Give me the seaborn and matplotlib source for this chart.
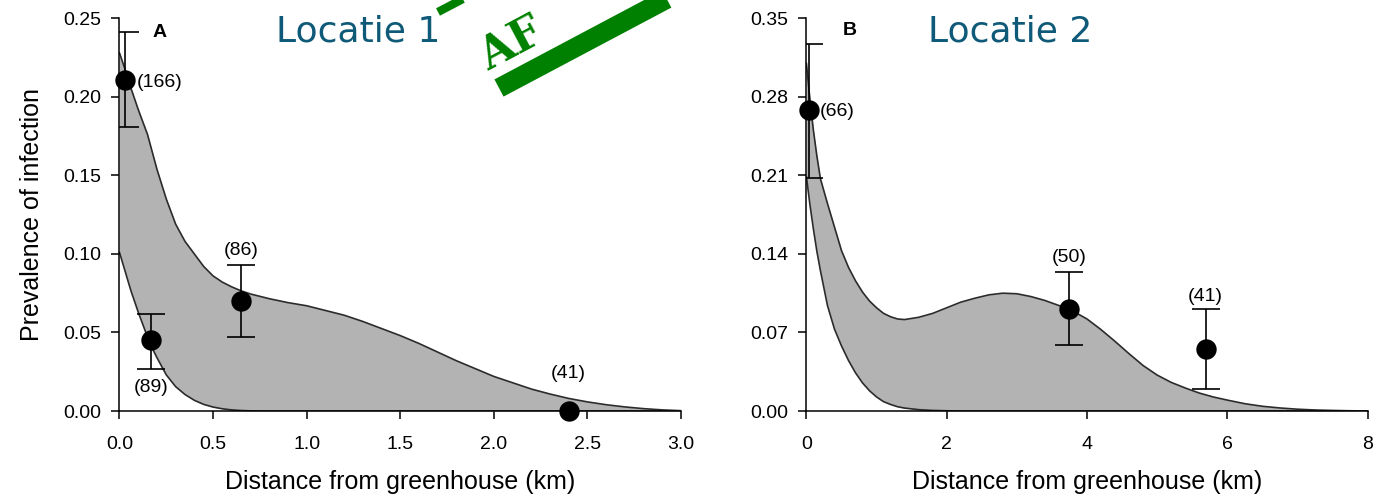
import numpy as np
import pandas as pd
import matplotlib
matplotlib.use("Agg")
import matplotlib.pyplot as plt
import seaborn as sns
from matplotlib.lines import Line2D

# ------------------------------------------
# data
# ------------------------------------------
# panel A (Locatie 1)
a_x = [0.03, 0.17, 0.65, 2.40]
a_y = [0.211, 0.045, 0.070, 0.000]
a_lo = [0.181, 0.027, 0.047, np.nan]
a_hi = [0.241, 0.062, 0.093, np.nan]
a_n = ["(166)", "(89)", "(86)", "(41)"]

a_curve_x = [0.0, 0.02, 0.04, 0.06, 0.08, 0.1, 0.125, 0.15, 0.175, 0.2, 0.25,
             0.3, 0.35, 0.4, 0.45, 0.5, 0.55, 0.6, 0.65, 0.7, 0.8, 0.9, 1.0,
             1.1, 1.2, 1.3, 1.4, 1.5, 1.6, 1.7, 1.8, 1.9, 2.0, 2.1, 2.2, 2.3,
             2.4, 2.5, 2.6, 2.7, 2.8, 2.9, 3.0]
a_upper = [0.228, 0.221, 0.214, 0.206, 0.199, 0.192, 0.184, 0.176, 0.165,
           0.154, 0.135, 0.119, 0.108, 0.100, 0.092, 0.086, 0.082, 0.079,
           0.0765, 0.0745, 0.0715, 0.069, 0.067, 0.064, 0.061, 0.057, 0.0525,
           0.048, 0.043, 0.0375, 0.032, 0.027, 0.022, 0.018, 0.014, 0.0108,
           0.008, 0.0058, 0.004, 0.0026, 0.0015, 0.0007, 0.0002]
a_lower = [0.101, 0.093, 0.085, 0.077, 0.070, 0.063, 0.055, 0.047, 0.040,
           0.034, 0.023, 0.0155, 0.0105, 0.0068, 0.0042, 0.0025, 0.0014,
           0.0007, 0.0003, 0.0001, 0.0, 0.0, 0.0, 0.0, 0.0, 0.0, 0.0, 0.0,
           0.0, 0.0, 0.0, 0.0, 0.0, 0.0, 0.0, 0.0, 0.0, 0.0, 0.0, 0.0, 0.0,
           0.0, 0.0]

# panel B (Locatie 2)
b_x = [0.03, 3.74, 5.69]
b_y = [0.268, 0.091, 0.055]
b_lo = [0.208, 0.059, 0.020]
b_hi = [0.327, 0.124, 0.091]
b_n = ["(66)", "(50)", "(41)"]

b_curve_x = [0.0, 0.05, 0.1, 0.15, 0.2, 0.3, 0.4, 0.5, 0.6, 0.7, 0.8, 0.9,
             1.0, 1.1, 1.2, 1.3, 1.4, 1.6, 1.8, 2.0, 2.2, 2.4, 2.6, 2.8, 3.0,
             3.2, 3.4, 3.6, 3.8, 4.0, 4.2, 4.4, 4.6, 4.8, 5.0, 5.2, 5.4, 5.6,
             5.8, 6.0, 6.25, 6.5, 6.75, 7.0, 7.25, 7.5, 7.75, 8.0]
b_upper = [0.310, 0.278, 0.250, 0.227, 0.207, 0.185, 0.164, 0.143, 0.128,
           0.116, 0.106, 0.098, 0.092, 0.087, 0.084, 0.082, 0.0815, 0.0835,
           0.087, 0.092, 0.097, 0.1005, 0.1035, 0.105, 0.1045, 0.102, 0.0985,
           0.094, 0.089, 0.082, 0.0725, 0.062, 0.051, 0.0405, 0.032, 0.0255,
           0.0205, 0.016, 0.0125, 0.0097, 0.0065, 0.0042, 0.0027, 0.0016,
           0.0009, 0.0005, 0.0002, 0.0]
b_lower = [0.209, 0.184, 0.162, 0.142, 0.125, 0.094, 0.073, 0.058, 0.045,
           0.034, 0.025, 0.018, 0.0125, 0.0083, 0.0058, 0.0038, 0.0026,
           0.0012, 0.0005, 0.0002, 0.0, 0.0, 0.0, 0.0, 0.0, 0.0, 0.0, 0.0,
           0.0, 0.0, 0.0, 0.0, 0.0, 0.0, 0.0, 0.0, 0.0, 0.0, 0.0, 0.0, 0.0,
           0.0, 0.0, 0.0, 0.0, 0.0, 0.0, 0.0]

# ------------------------------------------
# style
# ------------------------------------------
sns.set_style("ticks")
plt.rcParams["font.family"] = ["Liberation Sans", "DejaVu Sans"]
plt.rcParams["axes.linewidth"] = 1.1
for key in ["text.color", "axes.labelcolor", "xtick.color", "ytick.color",
            "axes.edgecolor"]:
    plt.rcParams[key] = "black"

FILL = "#b3b3b3"
EDGE = "#2b2b2b"
TITLE_COLOR = "#0f5a78"

fig = plt.figure(figsize=(13.78, 5.0), dpi=100)
ax1 = fig.add_axes([0.0867, 0.178, 0.4075, 0.7854])
ax2 = fig.add_axes([0.5852, 0.178, 0.4073, 0.7854])


def draw_panel(ax, cx, up, low, px, py, lo, hi, labels, label_pos):
    ax.fill_between(cx, low, up, color=FILL, linewidth=0, zorder=1)
    df = pd.DataFrame({"x": cx, "up": up, "low": low})
    sns.lineplot(data=df, x="x", y="up", ax=ax, color=EDGE, linewidth=1.2, zorder=2)
    sns.lineplot(data=df, x="x", y="low", ax=ax, color=EDGE, linewidth=1.2, zorder=2)

    pts = pd.DataFrame({"x": px, "y": py, "lo": lo, "hi": hi})
    eb = pts.dropna()
    ax.errorbar(eb["x"], eb["y"], yerr=[eb["y"] - eb["lo"], eb["hi"] - eb["y"]],
                fmt="none", ecolor="black", elinewidth=1.2, capsize=10,
                capthick=1.2, zorder=3)
    sns.scatterplot(data=pts, x="x", y="y", ax=ax, color="black", s=215,
                    edgecolor="black", linewidth=0, zorder=4, clip_on=False)

    for txt, (tx, ty, ha) in zip(labels, label_pos):
        ax.text(tx, ty, txt, ha=ha, va="center", fontsize=14)

    sns.despine(ax=ax)
    ax.tick_params(axis="x", direction="out", length=6, width=1.1,
                   labelsize=14, pad=12)
    ax.tick_params(axis="y", direction="out", length=6, width=1.1,
                   labelsize=14, pad=7)
    ax.set_xlabel("Distance from greenhouse (km)", fontsize=18, labelpad=12)
    ax.set_ylabel("")


draw_panel(ax1, a_curve_x, a_upper, a_lower, a_x, a_y, a_lo, a_hi, a_n,
           [(0.094, 0.209, "left"), (0.171, 0.0152, "center"),
            (0.65, 0.102, "center"), (2.40, 0.0236, "center")])
ax1.set_xlim(0, 3.0)
ax1.set_ylim(0, 0.25)
ax1.set_xticks(np.arange(0, 3.01, 0.5))
ax1.set_yticks(np.arange(0, 0.251, 0.05))
ax1.xaxis.set_major_formatter(matplotlib.ticker.FormatStrFormatter("%.1f"))
ax1.yaxis.set_major_formatter(matplotlib.ticker.FormatStrFormatter("%.2f"))
ax1.set_ylabel("Prevalence of infection", fontsize=18, labelpad=14)
ax1.text(0.072, 0.963, "A", transform=ax1.transAxes, fontsize=14,
         fontweight="bold", ha="center", va="center")

draw_panel(ax2, b_curve_x, b_upper, b_lower, b_x, b_y, b_lo, b_hi, b_n,
           [(0.19, 0.267, "left"), (3.74, 0.1365, "center"),
            (5.69, 0.102, "center")])
ax2.set_xlim(0, 8)
ax2.set_ylim(0, 0.35)
ax2.set_xticks([0, 2, 4, 6, 8])
ax2.set_yticks([0.0, 0.07, 0.14, 0.21, 0.28, 0.35])
ax2.yaxis.set_major_formatter(matplotlib.ticker.FormatStrFormatter("%.2f"))
ax2.text(0.078, 0.970, "B", transform=ax2.transAxes, fontsize=14,
         fontweight="bold", ha="center", va="center")

# slide titles
fig.text(358 / 1378, 1 - 31 / 500, "Locatie 1", fontsize=26, color=TITLE_COLOR,
         family="DejaVu Sans", ha="center", va="center")
fig.text(1010 / 1378, 1 - 31 / 500, "Locatie 2", fontsize=26, color=TITLE_COLOR,
         family="DejaVu Sans", ha="center", va="center")

# green stamp in the top corner of panel A
STAMP = "#008000"
fig.text(512 / 1378, 1 - 44 / 500, "AF", fontsize=32, color=STAMP,
         family="DejaVu Serif", fontweight="bold", rotation=28,
         rotation_mode="anchor", ha="center", va="center")
fig.add_artist(Line2D([499 / 1378, 680 / 1378], [1 - 88 / 500, 1 + 8 / 500],
                      transform=fig.transFigure, color=STAMP, linewidth=14,
                      solid_capstyle="butt"))
fig.add_artist(Line2D([438 / 1378, 480 / 1378], [1 - 12 / 500, 1 + 10 / 500],
                      transform=fig.transFigure, color=STAMP, linewidth=6,
                      solid_capstyle="butt"))

fig.savefig("out.png", dpi=100)
